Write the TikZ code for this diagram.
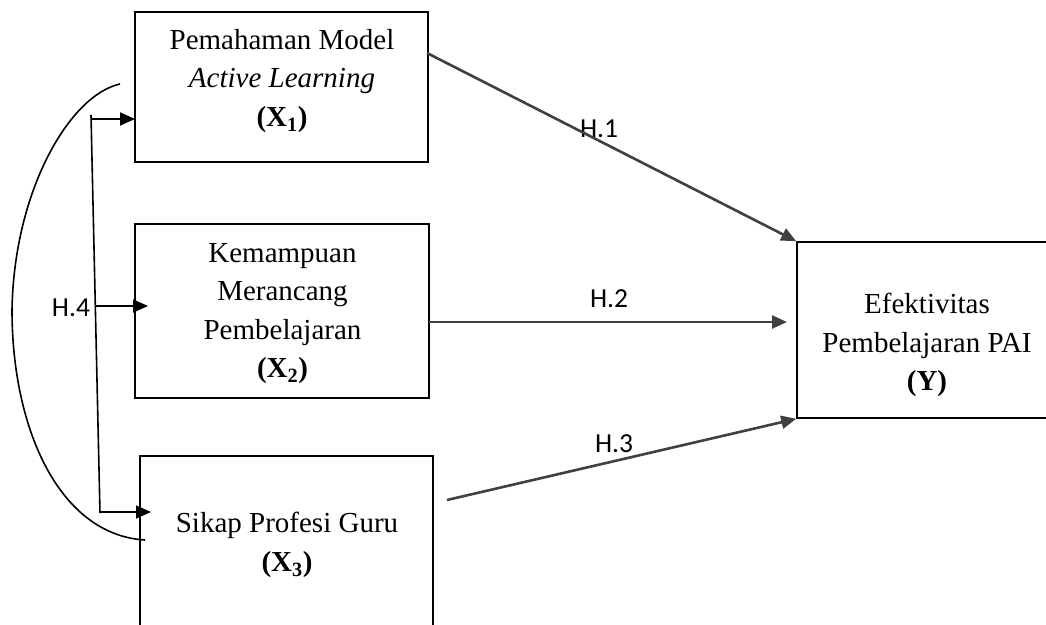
\documentclass[tikz,border=0pt]{standalone}
\usepackage{fontspec}
\setmainfont{Liberation Serif}
\newfontfamily\hfont{Carlito}
\usetikzlibrary{arrows.meta}
\begin{document}
\begin{tikzpicture}[x=1pt,y=-1pt,
  box/.style={draw=black,line width=1.6pt,rectangle,inner sep=0pt},
  boxtext/.style={inner sep=0pt,anchor=north,align=center,font=\fontsize{29}{38.5}\selectfont},
  hlabel/.style={inner sep=0pt,font=\hfont\fontsize{27.5}{30}\selectfont},
  harrow/.style={draw={rgb,255:red,64;green,64;blue,64},line width=2.6pt,-{Triangle[length=15pt,width=13pt]}},
  barrow/.style={draw=black,line width=1.8pt,-{Triangle[length=15pt,width=13pt]}},
  bline/.style={draw=black,line width=1.6pt}]
\clip (0,0) rectangle (1046,624);
\fill[white] (0,0) rectangle (1046,624);
% boxes
\node[box,minimum width=293pt,minimum height=150pt] (x1) at (281.5,87) {};
\node[box,minimum width=294pt,minimum height=174pt] (x2) at (282,311) {};
\node[box,minimum width=293pt,minimum height=204pt] (x3) at (286.5,558) {};
\node[box,minimum width=260pt,minimum height=176pt] (y) at (927,330) {};
% texts
\node[boxtext] (t1) at (282,29) {Pemahaman Model\\\textit{Active Learning}\\\textbf{(X\textsubscript{1})}};
\node[boxtext] (t2) at (282.5,243) {Kemampuan\\Merancang\\Pembelajaran\\\textbf{(X\textsubscript{2})}};
\node[boxtext] (t3) at (287,512) {Sikap Profesi Guru\\\textbf{(X\textsubscript{3})}};
\node[boxtext] (ty) at (927,293) {Efektivitas\\Pembelajaran PAI\\\textbf{(Y)}};
% hypothesis labels
\node[hlabel] (h1) at (599,129) {H.1};
\node[hlabel] (h2) at (609,299) {H.2};
\node[hlabel] (h3) at (614,444) {H.3};
\node[hlabel] (h4) at (71,308) {H.4};
% coordinates
\coordinate (s1) at (427,53);
\coordinate (s2) at (429,322);
\coordinate (e2) at (787,322);
\coordinate (s3) at (447,500);
\coordinate (vtop) at (91,115);
\coordinate (vbot) at (100,513);
\coordinate (a1) at (91.3,119);
\coordinate (a2) at (95.6,306);
\coordinate (a3) at (100,512);
\coordinate (b1) at (135,119);
\coordinate (b2) at (148,306);
\coordinate (b3) at (151,512);
\coordinate (ctop) at (120,84);
\coordinate (cmid) at (12,310);
\coordinate (cbot) at (145,540);
% H arrows
\draw[harrow] (s1) -- (y.north west);
\draw[harrow] (s2) -- (e2);
\draw[harrow] (s3) -- (y.south west);
% H.4 bracket
\draw[bline] (vtop) -- (vbot);
\draw[barrow] (a1) -- (b1);
\draw[barrow] (a2) -- (b2);
\draw[barrow] (a3) -- (b3);
\draw[bline] (ctop) .. controls (70,95) and (14,190) .. (cmid)
  .. controls (12,430) and (60,535) .. (cbot);
\end{tikzpicture}
\end{document}
